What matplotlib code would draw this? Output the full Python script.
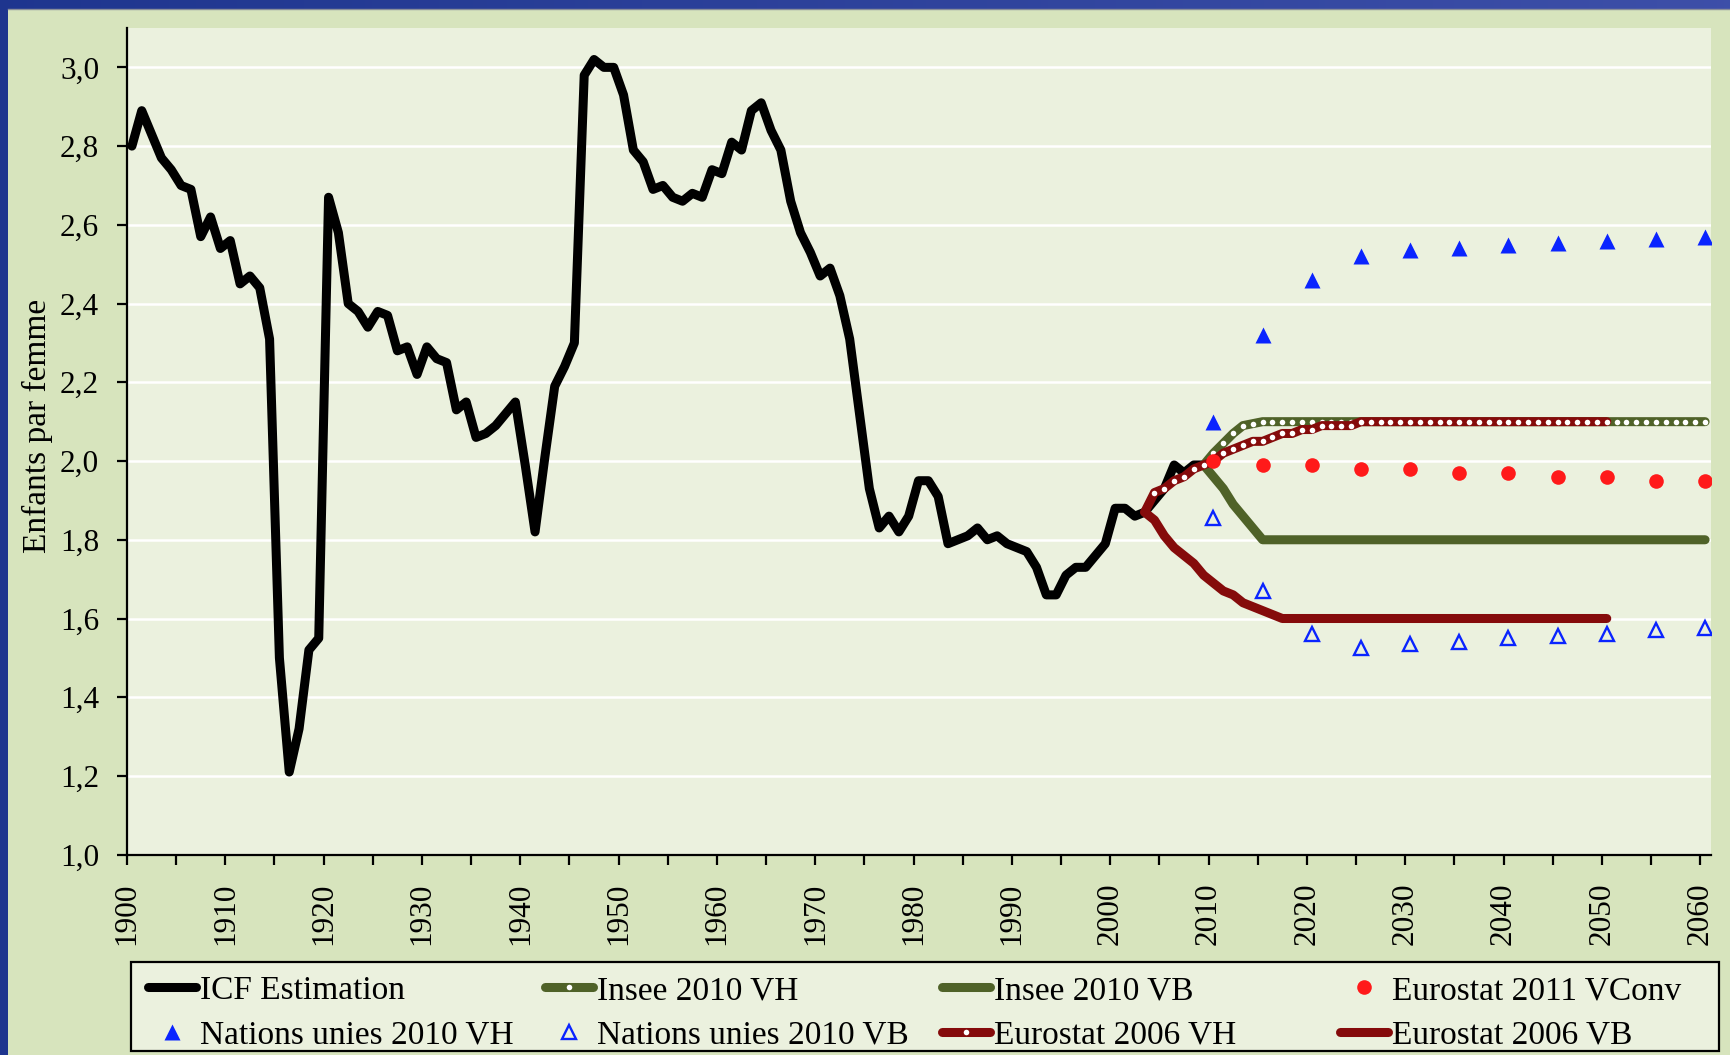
#!/usr/bin/env python3
"""Indicateur conjoncturel de fecondite en France, 1900-2060, et projections."""
import numpy as np
import matplotlib.pyplot as plt
from matplotlib.patches import Rectangle
from matplotlib.ticker import FixedLocator, MultipleLocator

plt.rcParams['font.family'] = ['Liberation Serif', 'DejaVu Serif']

# ICF estimation, one value per year 1900-2009
icf_years = list(range(1900, 2010))
icf = [
    2.80, 2.89, 2.83, 2.77, 2.74, 2.70, 2.69, 2.57, 2.62, 2.54,
    2.56, 2.45, 2.47, 2.44, 2.31, 1.50, 1.21, 1.32, 1.52, 1.55,
    2.67, 2.58, 2.40, 2.38, 2.34, 2.38, 2.37, 2.28, 2.29, 2.22,
    2.29, 2.26, 2.25, 2.13, 2.15, 2.06, 2.07, 2.09, 2.12, 2.15,
    1.99, 1.82, 2.01, 2.19, 2.24, 2.30, 2.98, 3.02, 3.00, 3.00,
    2.93, 2.79, 2.76, 2.69, 2.70, 2.67, 2.66, 2.68, 2.67, 2.74,
    2.73, 2.81, 2.79, 2.89, 2.91, 2.84, 2.79, 2.66, 2.58, 2.53,
    2.47, 2.49, 2.42, 2.31, 2.12, 1.93, 1.83, 1.86, 1.82, 1.86,
    1.95, 1.95, 1.91, 1.79, 1.80, 1.81, 1.83, 1.80, 1.81, 1.79,
    1.78, 1.77, 1.73, 1.66, 1.66, 1.71, 1.73, 1.73, 1.76, 1.79,
    1.88, 1.88, 1.86, 1.87, 1.90, 1.93, 1.99, 1.97, 1.99, 1.99,
]

# Insee 2010, 2009-2060
insee_years = list(range(2009, 2061))
insee_vh = [
    1.99, 2.02, 2.045, 2.07, 2.09, 2.095,
    2.10, 2.10, 2.10, 2.10, 2.10, 2.10, 2.10, 2.10, 2.10, 2.10,
    2.10, 2.10, 2.10, 2.10, 2.10, 2.10, 2.10, 2.10, 2.10, 2.10,
    2.10, 2.10, 2.10, 2.10, 2.10, 2.10, 2.10, 2.10, 2.10, 2.10,
    2.10, 2.10, 2.10, 2.10, 2.10, 2.10, 2.10, 2.10, 2.10, 2.10,
    2.10, 2.10, 2.10, 2.10, 2.10, 2.10,
]
insee_vb = [
    1.99, 1.96, 1.93, 1.89, 1.86, 1.83,
    1.80, 1.80, 1.80, 1.80, 1.80, 1.80, 1.80, 1.80, 1.80, 1.80,
    1.80, 1.80, 1.80, 1.80, 1.80, 1.80, 1.80, 1.80, 1.80, 1.80,
    1.80, 1.80, 1.80, 1.80, 1.80, 1.80, 1.80, 1.80, 1.80, 1.80,
    1.80, 1.80, 1.80, 1.80, 1.80, 1.80, 1.80, 1.80, 1.80, 1.80,
    1.80, 1.80, 1.80, 1.80, 1.80, 1.80,
]

# Eurostat 2006, 2003-2050
euro06_years = list(range(2003, 2051))
euro06_vh = [
    1.87, 1.92, 1.93, 1.95, 1.96, 1.98, 1.99, 2.00, 2.02, 2.03,
    2.04, 2.05, 2.05, 2.06, 2.07, 2.07, 2.08, 2.08, 2.09, 2.09,
    2.09, 2.09, 2.10, 2.10, 2.10, 2.10, 2.10, 2.10, 2.10, 2.10,
    2.10, 2.10, 2.10, 2.10, 2.10, 2.10, 2.10, 2.10, 2.10, 2.10,
    2.10, 2.10, 2.10, 2.10, 2.10, 2.10, 2.10, 2.10,
]
euro06_vb = [
    1.87, 1.85, 1.81, 1.78, 1.76, 1.74, 1.71, 1.69, 1.67, 1.66,
    1.64, 1.63, 1.62, 1.61, 1.60, 1.60, 1.60, 1.60, 1.60, 1.60,
    1.60, 1.60, 1.60, 1.60, 1.60, 1.60, 1.60, 1.60, 1.60, 1.60,
    1.60, 1.60, 1.60, 1.60, 1.60, 1.60, 1.60, 1.60, 1.60, 1.60,
    1.60, 1.60, 1.60, 1.60, 1.60, 1.60, 1.60, 1.60,
]

# five-yearly projections 2010-2060
proj5_years = [2010, 2015, 2020, 2025, 2030, 2035, 2040, 2045, 2050, 2055, 2060]
euro11_vconv = [2.00, 1.99, 1.99, 1.98, 1.98, 1.97, 1.97, 1.96, 1.96, 1.95, 1.95]
nu_vh = [2.10, 2.32, 2.46, 2.52, 2.535, 2.54, 2.55, 2.555, 2.56, 2.565, 2.57]
nu_vb = [1.855, 1.67, 1.56, 1.525, 1.535, 1.54, 1.55, 1.555, 1.56, 1.57, 1.575]

y_ticks = [1.0, 1.2, 1.4, 1.6, 1.8, 2.0, 2.2, 2.4, 2.6, 2.8, 3.0]

BLACK = '#000000'
GREEN = '#4f6228'
DARKRED = '#850b0b'
RED = '#ff1a1a'
BLUE = '#0a24ff'
PANEL = '#d7e4bd'
PLOTBG = '#ebf1de'

W, H = 1731, 1055
fig = plt.figure(figsize=(W / 100, H / 100), dpi=100)


def fx(px):
    return px / W


def fy(py):
    return 1 - py / H


# background: blue frame with light green panel
bg = fig.add_axes([0, 0, 1, 1], zorder=-10)
bg.set_axis_off()
grad = np.linspace(0, 1, 256)[None, :]
cols = np.array([[0.12, 0.21, 0.56], [0.24, 0.31, 0.66]])
img = cols[0][None, None, :] * (1 - grad[..., None]) + cols[1][None, None, :] * grad[..., None]
bg.imshow(img, extent=[0, 1, 0, 1], aspect='auto', transform=bg.transAxes)
bg.add_patch(Rectangle((fx(8), 0), 1, fy(9), transform=bg.transAxes,
                       facecolor=PANEL, edgecolor='none'))
bg.plot([fx(8), 1], [fy(8.5), fy(8.5)], transform=bg.transAxes, color='#8a8f9a', lw=1)
bg.set_xlim(0, 1)
bg.set_ylim(0, 1)

ax = fig.add_axes([fx(127), fy(854.7), fx(1711) - fx(127), fy(28) - fy(854.7)])
ax.set_facecolor(PLOTBG)

# points sit at mid-year
off = 0.5
lw = 6.5
x = lambda yrs: np.array(yrs) + off

l_icf, = ax.plot(x(icf_years), icf, color=BLACK, lw=lw, solid_joinstyle='round',
                 solid_capstyle='round', label='ICF Estimation')
l_ivh, = ax.plot(x(insee_years), insee_vh, color=GREEN, lw=lw, solid_capstyle='round',
                 marker='o', ms=4, mfc='white', mec='none', label='Insee 2010 VH')
l_ivb, = ax.plot(x(insee_years), insee_vb, color=GREEN, lw=lw, solid_capstyle='round',
                 label='Insee 2010 VB')
l_evh, = ax.plot(x(euro06_years), euro06_vh, color=DARKRED, lw=lw, solid_capstyle='round',
                 marker='o', ms=4, mfc='white', mec='none', label='Eurostat 2006 VH')
l_evb, = ax.plot(x(euro06_years), euro06_vb, color=DARKRED, lw=lw, solid_capstyle='round',
                 label='Eurostat 2006 VB')
l_e11, = ax.plot(x(proj5_years), euro11_vconv, ls='none', marker='o', ms=10.5,
                 mfc=RED, mec='none', label='Eurostat 2011 VConv')
l_nvh, = ax.plot(x(proj5_years), nu_vh, ls='none', marker='^', ms=11, mfc=BLUE,
                 mec='none', label='Nations unies 2010 VH')
l_nvb, = ax.plot(x(proj5_years), nu_vb, ls='none', marker='^', ms=10, mfc='none',
                 mec=BLUE, mew=1.7, label='Nations unies 2010 VB')

ax.set_xlim(1900, 2061.1)
ax.set_ylim(1.0, 3.1)
ax.xaxis.set_major_locator(MultipleLocator(10))
ax.xaxis.set_minor_locator(MultipleLocator(5))
ax.yaxis.set_major_locator(FixedLocator(y_ticks))
ax.set_yticklabels([f'{v:.1f}'.replace('.', ',') for v in y_ticks])
for lab in ax.get_xticklabels():
    lab.set_rotation(90)

ax.grid(axis='y', color='white', lw=1.8)
ax.grid(axis='x', visible=False)
ax.set_axisbelow(True)
for side in ('top', 'right'):
    ax.spines[side].set_visible(False)
for side in ('left', 'bottom'):
    ax.spines[side].set_linewidth(1.6)
    ax.spines[side].set_color('black')
ax.tick_params(axis='both', which='both', direction='out', length=7, width=1.6,
               labelsize=22.5, color='black')
ax.tick_params(axis='x', pad=13)
ax.tick_params(axis='y', pad=13)
ax.set_ylabel('Enfants par femme', fontsize=24)
ax.yaxis.set_label_coords(-0.047, 0.519)

# legend: frame plus four columns of two entries
bg.add_patch(Rectangle((fx(131), fy(1051)), fx(1719) - fx(131), fy(962) - fy(1051),
                       transform=bg.transAxes, facecolor=PLOTBG, edgecolor='black', lw=1.6))
columns = [
    (148, [l_icf, l_nvh]),
    (545, [l_ivh, l_nvb]),
    (942, [l_ivb, l_evh]),
    (1340, [l_e11, l_evb]),
]
for left, hs in columns:
    fig.legend(handles=hs, labels=[h.get_label() for h in hs], loc='center left',
               bbox_to_anchor=(fx(left), fy(1013)), frameon=False, fontsize=24,
               handlelength=1.45, handletextpad=0.1, borderpad=0, borderaxespad=0,
               labelspacing=0.42, numpoints=1)

fig.savefig('out.png', dpi=100)
print('Saved out.png')
